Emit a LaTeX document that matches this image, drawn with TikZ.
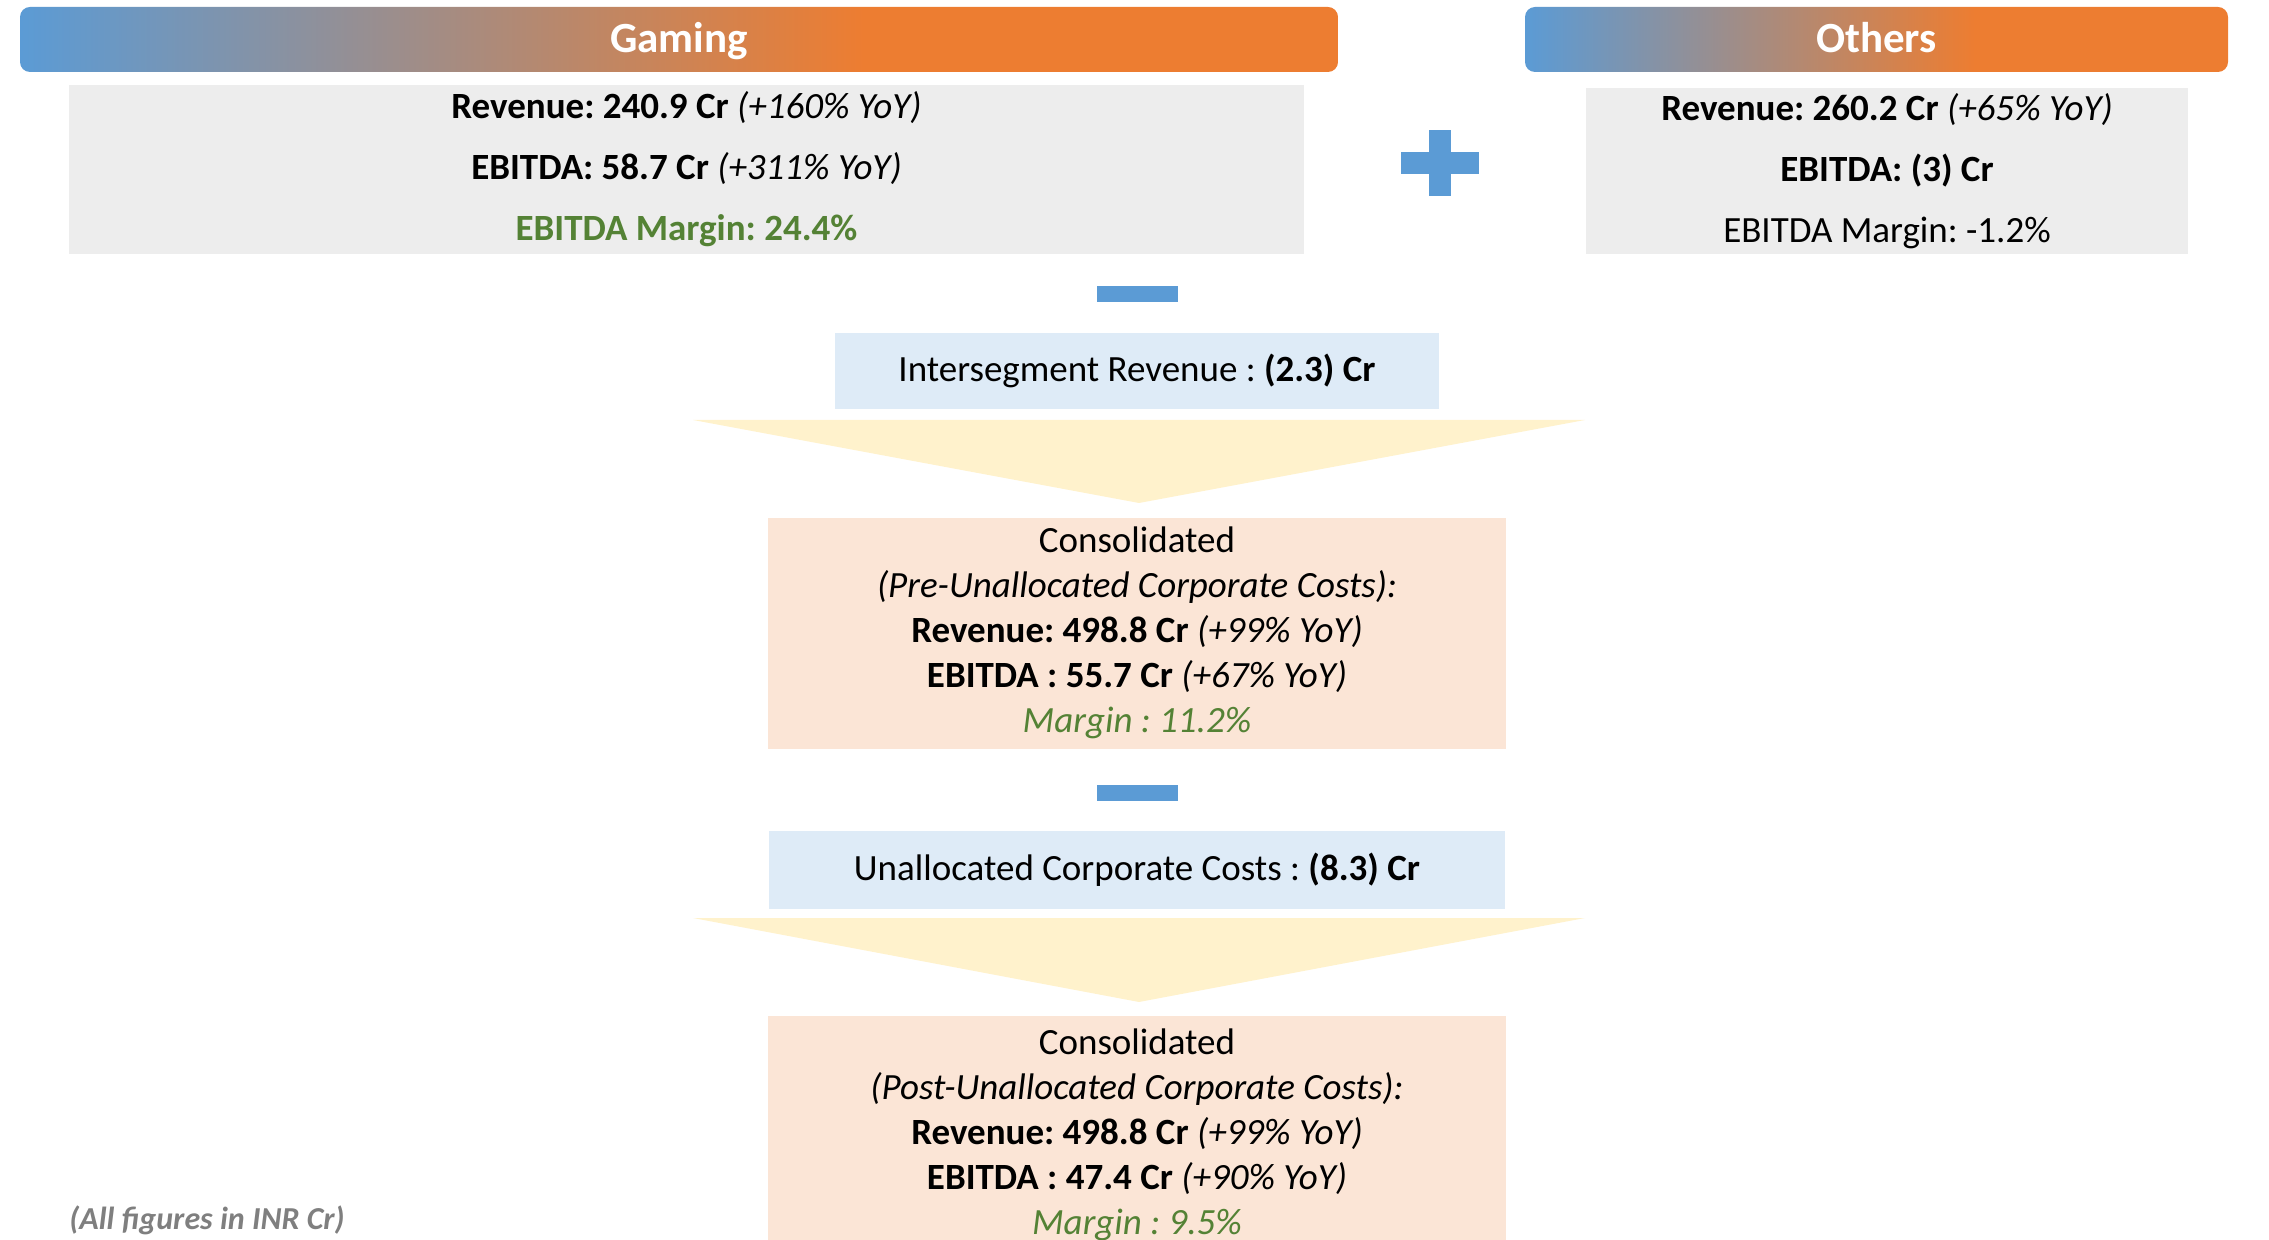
\documentclass[tikz,border=0pt]{standalone}
\usepackage{fontspec}
\setmainfont{Carlito}
\usetikzlibrary{positioning}
\frenchspacing

\definecolor{hdrblue}{HTML}{5B9BD5}
\definecolor{hdrorange}{HTML}{ED7D31}
\definecolor{segfill}{HTML}{EDEDED}
\definecolor{costfill}{HTML}{DEEBF7}
\definecolor{consfill}{HTML}{FBE5D6}
\definecolor{funnelfill}{HTML}{FFF2CC}
\definecolor{margingreen}{HTML}{548235}
\definecolor{notegray}{HTML}{7F7F7F}

\pgfdeclarehorizontalshading{hdrshade}{100bp}{color(0bp)=(hdrblue); color(25bp)=(hdrblue); color(57bp)=(hdrorange); color(100bp)=(hdrorange)}

\tikzset{
  hdrbox/.style={shade, shading=hdrshade, rounded corners=5pt, minimum height=32.5pt, text height=13pt, text depth=0pt, text=white, font=\fontsize{21.5}{26}\selectfont\bfseries},
  segbox/.style={fill=segfill, align=center, inner sep=1pt, font=\fontsize{18.5}{30.5}\selectfont},
  costbox/.style={fill=costfill, minimum height=38pt, font=\fontsize{18.5}{22.5}\selectfont},
  consbox/.style={fill=consfill, align=center, inner sep=1pt, minimum width=369pt, font=\fontsize{18.5}{22.5}\selectfont},
  signbar/.style={fill=hdrblue, inner sep=0pt}
}

\begin{document}
\begin{tikzpicture}[x=1pt, y=-1pt]
  \path[use as bounding box, clip] (0,0) rectangle (1134.5,620);

  % segments
  \node[hdrbox, minimum width=659pt] (gamhdr) at (339.5,19.75) {Gaming};
  \node[segbox, minimum width=617.5pt, minimum height=84.5pt, below=6pt of gamhdr, xshift=3.75pt] (gambody)
    {\textbf{Revenue: 240.9 Cr} \textit{(+160\% YoY)}\\
     \textbf{EBITDA: 58.7 Cr} \textit{(+311\% YoY)}\\
     \textcolor{margingreen}{\textbf{EBITDA Margin: 24.4\%}}};
  \node[hdrbox, minimum width=351.5pt] (othhdr) at (938.25,19.75) {Others};
  \node[segbox, minimum width=301pt, minimum height=83pt, below=7.5pt of othhdr, xshift=5.25pt] (othbody)
    {\textbf{Revenue: 260.2 Cr} \textit{(+65\% YoY)}\\
     \textbf{EBITDA: (3) Cr}\\
     EBITDA Margin: -1.2\%};
  \node[signbar, minimum width=39pt, minimum height=11pt] (plush) at (719.8,81.5) {};
  \node[signbar, minimum width=11pt, minimum height=33pt] (plusv) at (plush) {};

  % first step
  \node[signbar, minimum width=40.5pt, minimum height=8pt] (minus1) at (568.5,147) {};
  \node[costbox, minimum width=302pt, below=15pt of minus1] (interseg) {Intersegment Revenue : \textbf{(2.3) Cr}};
  \fill[funnelfill] (346.5,210) -- (792.5,210) -- (569.5,251.5) -- cycle;
  \node[consbox, minimum height=115.5pt, below=54pt of interseg] (cons1)
    {Consolidated\\
     \textit{(Pre-Unallocated Corporate Costs):}\\
     \textbf{Revenue: 498.8 Cr} \textit{(+99\% YoY)}\\
     \textbf{EBITDA : 55.7 Cr} \textit{(+67\% YoY)}\\
     \textcolor{margingreen}{\textit{Margin : 11.2\%}}};

  % second step
  \node[signbar, minimum width=40.5pt, minimum height=8pt, below=18pt of cons1] (minus2) {};
  \node[costbox, minimum width=368pt, minimum height=39pt, below=14.5pt of minus2] (unalloc) {Unallocated Corporate Costs : \textbf{(8.3) Cr}};
  \fill[funnelfill] (346.5,459) -- (792.5,459) -- (569.5,501) -- cycle;
  \node[consbox, minimum height=119pt, below=53pt of unalloc] (cons2)
    {Consolidated\\
     \textit{(Post-Unallocated Corporate Costs):}\\
     \textbf{Revenue: 498.8 Cr} \textit{(+99\% YoY)}\\
     \textbf{EBITDA : 47.4 Cr} \textit{(+90\% YoY)}\\
     \textcolor{margingreen}{\textit{Margin : 9.5\%}}};

  \node[anchor=west, inner sep=0pt, text=notegray, font=\fontsize{16}{19}\selectfont\bfseries\itshape] (note) at (34.5,610) {(All figures in INR Cr)};
\end{tikzpicture}
\end{document}
